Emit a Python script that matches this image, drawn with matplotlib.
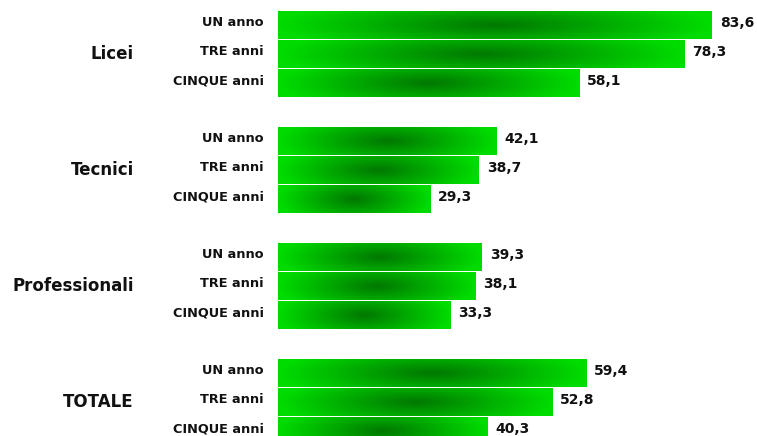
import numpy as np
import matplotlib
matplotlib.use("Agg")
import matplotlib.pyplot as plt
from matplotlib.colors import LinearSegmentedColormap

groups = ["Licei", "Tecnici", "Professionali", "TOTALE"]
sub_labels = ["UN anno", "TRE anni", "CINQUE anni"]
values = [
    [83.6, 78.3, 58.1],
    [42.1, 38.7, 29.3],
    [39.3, 38.1, 33.3],
    [59.4, 52.8, 40.3],
]

fig = plt.figure(figsize=(7.57, 4.36), dpi=100)
ax = fig.add_axes([0, 0, 1, 1])
ax.set_xlim(-53.56, 92.29)
ax.set_ylim(14.17, -0.862)
ax.axis("off")

cmap = LinearSegmentedColormap.from_list("g", ["#007800", "#00dc00"])
bar_h = 0.95
nx, ny = 300, 40
t = np.linspace(-1, 1, nx)
s = np.linspace(-1, 1, ny)
T, S = np.meshgrid(t, s)
R = np.clip(np.sqrt(T**2 + 0.25 * S**2), 0, 1)

dy = -0.08
for gi, g in enumerate(groups):
    for si, lab in enumerate(sub_labels):
        y = gi * 4 + si
        v = values[gi][si]
        bars = ax.barh(y, v, height=bar_h, color="#00cc00", edgecolor="none", left=0)
        im = ax.imshow(R, cmap=cmap, vmin=0, vmax=1, aspect="auto",
                       extent=[0, v, y + bar_h / 2, y - bar_h / 2],
                       interpolation="bilinear", zorder=2)
        im.set_clip_path(bars.patches[0])
        ax.text(-2.7, y + dy, lab, ha="right", va="center", fontsize=9.3,
                fontweight="bold", color="#111111")
        ax.text(v + 1.5, y + dy, f"{v:.1f}".replace(".", ","), ha="left", va="center",
                fontsize=10, fontweight="bold", color="#111111")
    ax.text(-27.8, gi * 4 + 1, g, ha="right", va="center", fontsize=12,
            fontweight="bold", color="#111111")

fig.savefig("out.png", dpi=100)
